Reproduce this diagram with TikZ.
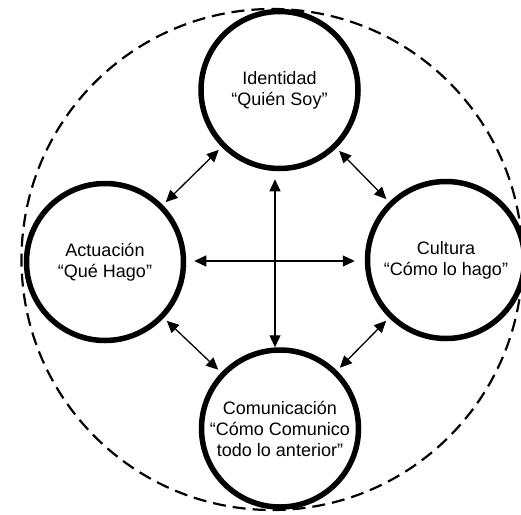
\documentclass[tikz,border=0pt]{standalone}
\usepackage{fontspec}
\setmainfont{Liberation Sans}
\usetikzlibrary{arrows.meta}
\begin{document}
\begin{tikzpicture}[x=1pt,y=-1pt,
  stage/.style={circle, draw, line width=5.5pt, fill=white, minimum size=157pt,
    inner sep=-30pt, align=center, font=\fontsize{18}{21}\selectfont},
  link/.style={{Triangle[length=12pt,width=11pt]}-{Triangle[length=12pt,width=11pt]},
    line width=1.3pt, shorten <=4pt, shorten >=4pt},
  halo/.style={dash pattern=on 13pt off 7pt, line width=2.2pt}]
\useasboundingbox (0,0) rectangle (521,514);

% outer dashed boundary
\draw[halo] (272,259.5) circle[radius=250.5];

% the four dimensions
\node[stage] (ident) at (279.5,90) {Identidad\\“Quién Soy”};
\node[stage] (act) at (105,262) {Actuación\\“Qué Hago”};
\node[stage] (cult) at (446,260) {Cultura\\“Cómo lo hago”};
\node[stage] (comm) at (280,428.5) {Comunicación\\“Cómo Comunico\\todo lo anterior”};

% links between neighbours
\draw[link] (ident) -- (act);
\draw[link] (ident) -- (cult);
\draw[link] (act) -- (comm);
\draw[link] (cult) -- (comm);

% central cross
\coordinate (hub) at (275,261);
\draw[link, shorten <=8pt, shorten >=0pt] (hub |- ident.south) -- (hub |- comm.north);
\draw[link, shorten <=8pt, shorten >=10pt] (hub -| act.east) -- (hub -| cult.west);
\end{tikzpicture}
\end{document}
